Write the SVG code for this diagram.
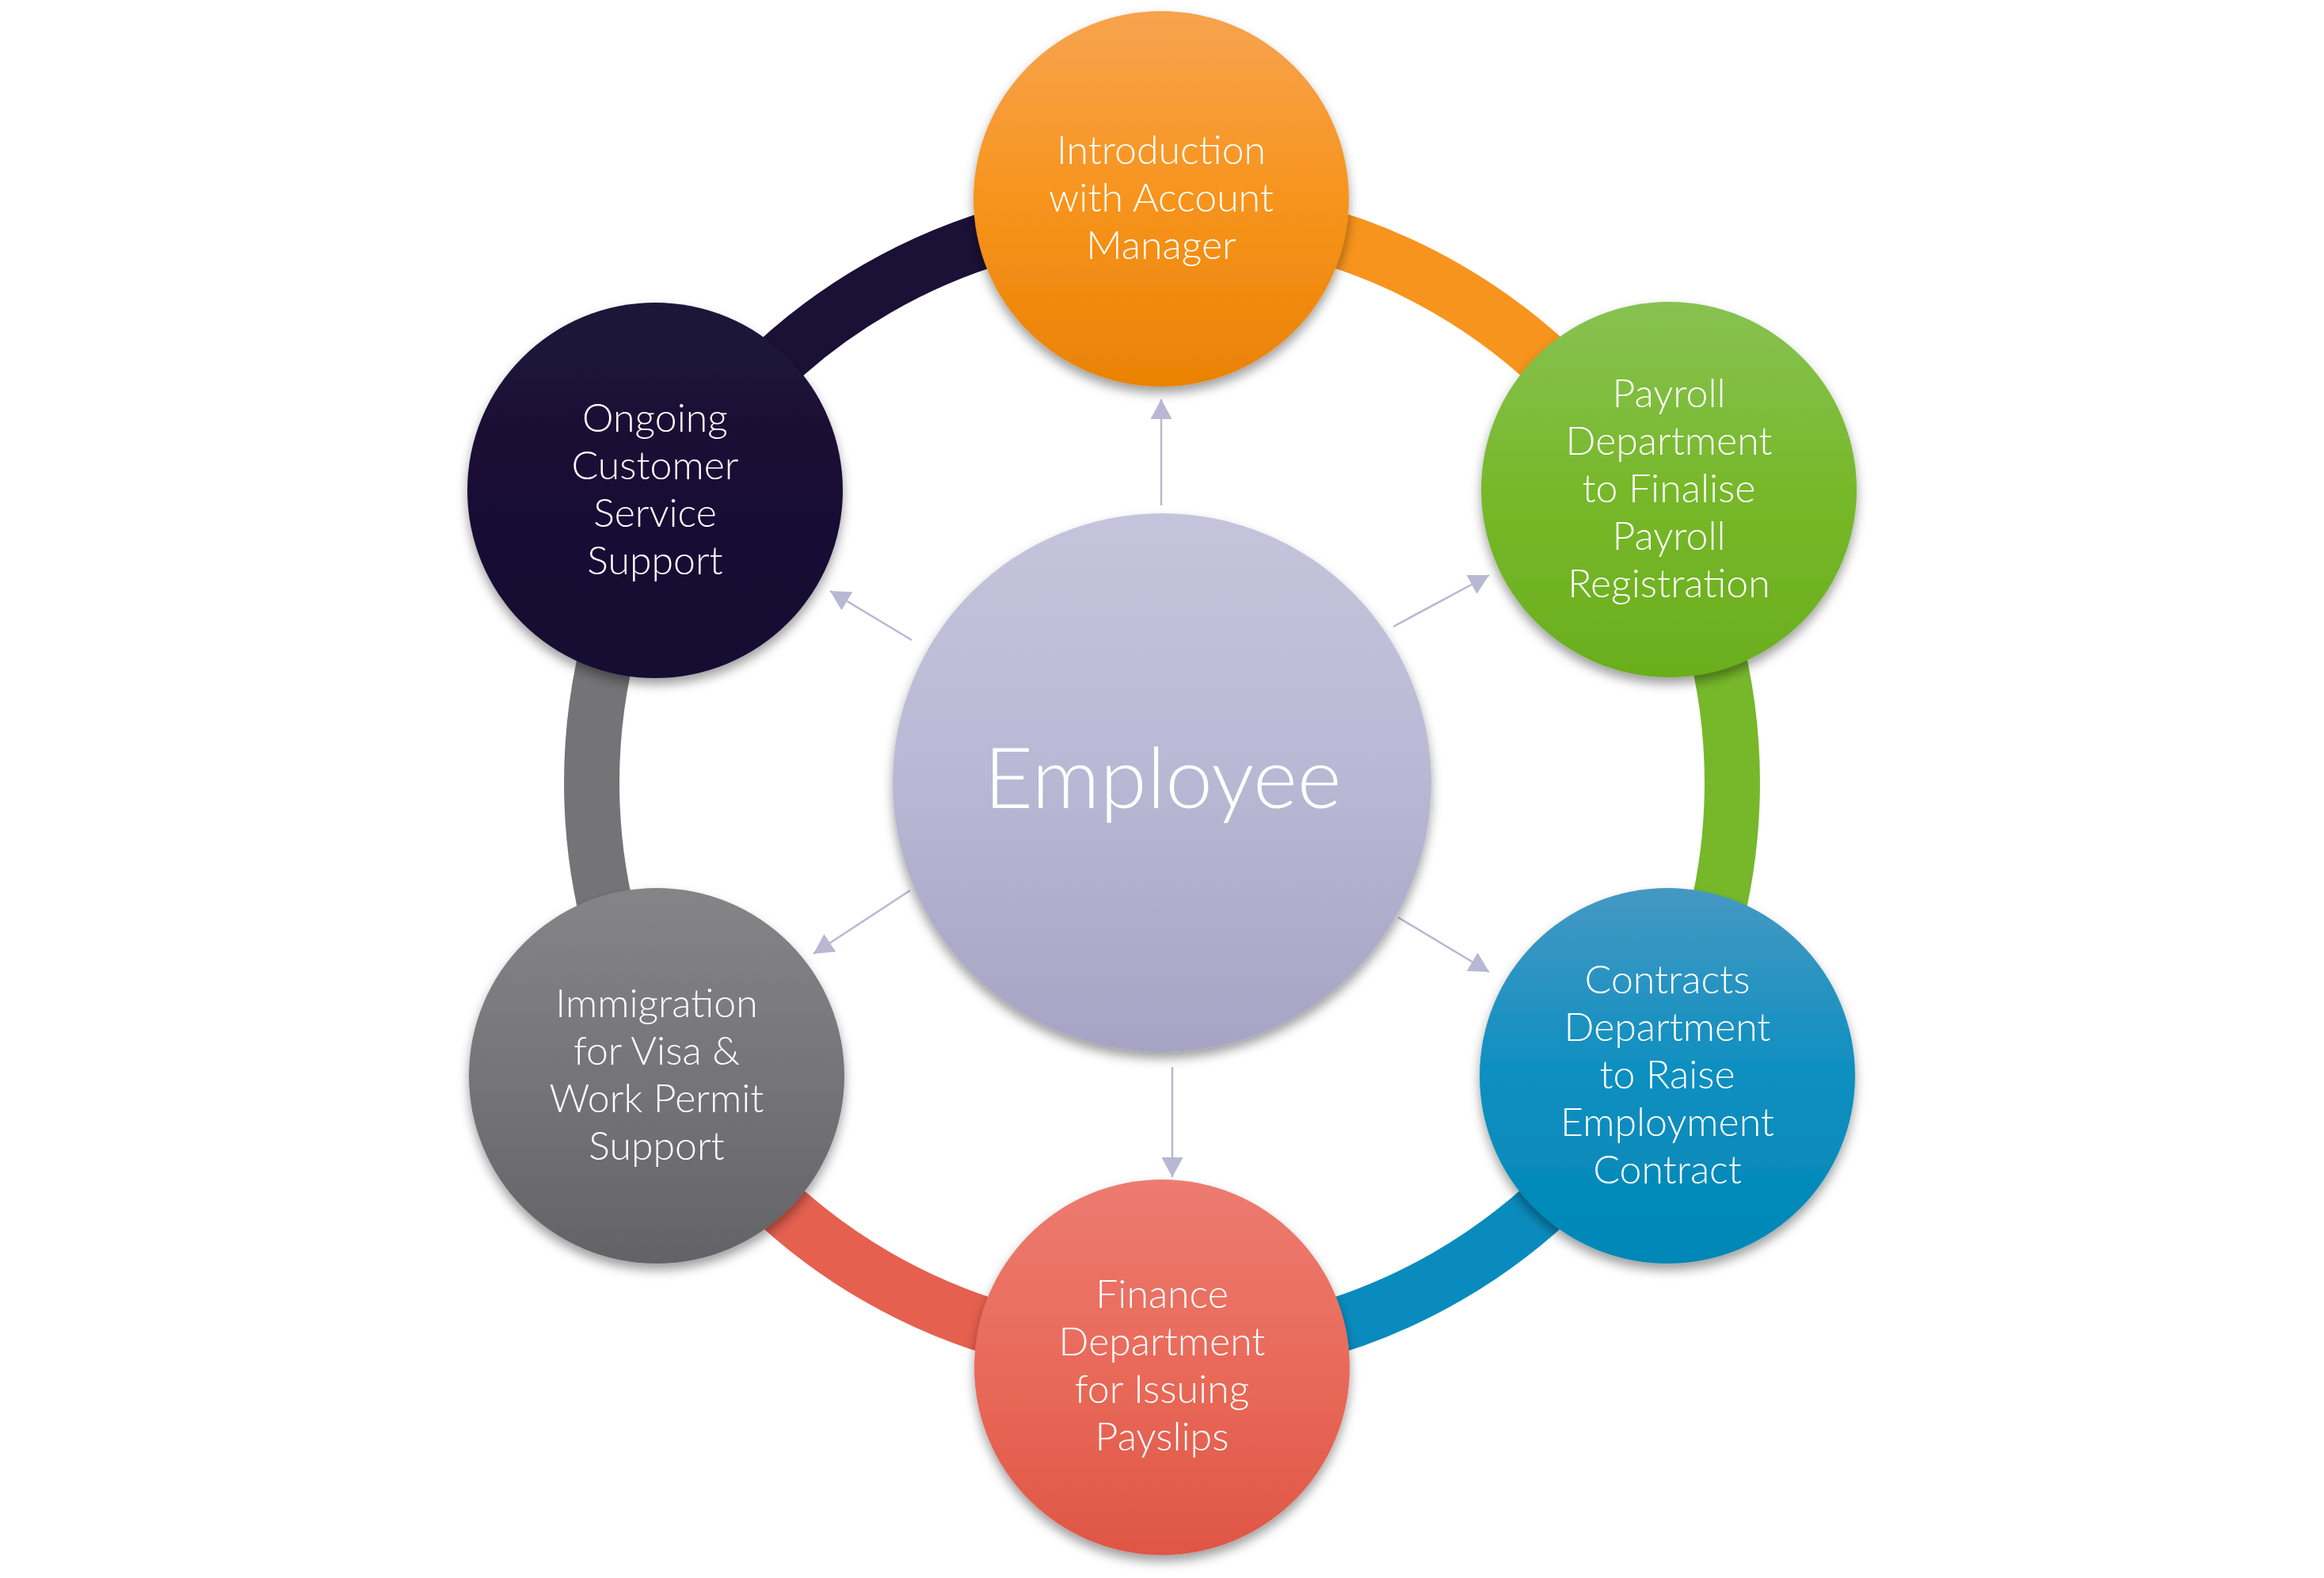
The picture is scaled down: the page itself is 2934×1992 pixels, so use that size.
<svg xmlns="http://www.w3.org/2000/svg" width="2934" height="1992" viewBox="0 0 2934 1992">
<defs>
<style>
.lbl{font-family:Lato,"Liberation Sans",sans-serif;font-weight:300;font-size:50px;fill:#ffffff;text-anchor:middle}
.big{font-family:Lato,"Liberation Sans",sans-serif;font-weight:300;font-size:107px;fill:#ffffff;text-anchor:middle}
.arc{fill:none;stroke-width:70;stroke-linecap:butt}
.conn{stroke:#b9b7d3;stroke-width:2.5;fill:none}
</style>
<filter id="sh" x="-20%" y="-20%" width="140%" height="150%">
<feDropShadow dx="0" dy="8" stdDeviation="7" flood-color="#000" flood-opacity="0.38"/>
</filter>
<linearGradient id="gO" x1="0" y1="0" x2="0" y2="1"><stop offset="0" stop-color="#f7a34f"/><stop offset="0.5" stop-color="#f7941d"/><stop offset="1" stop-color="#e98204"/></linearGradient>
<linearGradient id="gG" x1="0" y1="0" x2="0" y2="1"><stop offset="0" stop-color="#87c252"/><stop offset="0.5" stop-color="#77b82a"/><stop offset="1" stop-color="#6aae1e"/></linearGradient>
<linearGradient id="gB" x1="0" y1="0" x2="0" y2="1"><stop offset="0" stop-color="#4598c3"/><stop offset="0.5" stop-color="#0d8fc0"/><stop offset="1" stop-color="#0087b6"/></linearGradient>
<linearGradient id="gR" x1="0" y1="0" x2="0" y2="1"><stop offset="0" stop-color="#ec7b70"/><stop offset="0.5" stop-color="#e96a5a"/><stop offset="1" stop-color="#df5645"/></linearGradient>
<linearGradient id="gGr" x1="0" y1="0" x2="0" y2="1"><stop offset="0" stop-color="#858588"/><stop offset="0.5" stop-color="#757578"/><stop offset="1" stop-color="#636367"/></linearGradient>
<linearGradient id="gN" x1="0" y1="0" x2="0" y2="1"><stop offset="0" stop-color="#1d1338"/><stop offset="1" stop-color="#160d32"/></linearGradient>
<linearGradient id="gE" x1="0" y1="0" x2="0" y2="1"><stop offset="0" stop-color="#c6c4dc"/><stop offset="0.5" stop-color="#b9b7d3"/><stop offset="1" stop-color="#a6a3c4"/></linearGradient>
<marker id="ah" viewBox="0 0 25 27" refX="25" refY="13.5" markerWidth="25" markerHeight="27" markerUnits="userSpaceOnUse" orient="auto">
<path d="M0,0 L25,13.5 L0,27 z" fill="#b9b7d3"/>
</marker>
</defs>
<rect width="2934" height="1992" fill="#ffffff"/>
<g id="ring">
<path class="arc" stroke="#f7941d" d="M 1467 268 A 720 720 0 0 1 2090.5 628"/>
<path class="arc" stroke="#76b82a" d="M 2090.5 628 A 720 720 0 0 1 2090.5 1348"/>
<path class="arc" stroke="#0a8bbd" d="M 2090.5 1348 A 720 720 0 0 1 1467 1708"/>
<path class="arc" stroke="#e5604f" d="M 1467 1708 A 720 720 0 0 1 843.5 1348"/>
<path class="arc" stroke="#747477" d="M 843.5 1348 A 720 720 0 0 1 843.5 628"/>
<path class="arc" stroke="#1b1036" d="M 843.5 628 A 720 720 0 0 1 1467 268"/>
</g>
<g id="connectors">
<line class="conn" x1="1466" y1="638" x2="1466" y2="504" marker-end="url(#ah)"/>
<line class="conn" x1="1759" y1="791" x2="1880" y2="726" marker-end="url(#ah)"/>
<line class="conn" x1="1765" y1="1158" x2="1880" y2="1227" marker-end="url(#ah)"/>
<line class="conn" x1="1480" y1="1347" x2="1480" y2="1486" marker-end="url(#ah)"/>
<line class="conn" x1="1149" y1="1124" x2="1027" y2="1204" marker-end="url(#ah)"/>
<line class="conn" x1="1151" y1="808" x2="1048" y2="746" marker-end="url(#ah)"/>
</g>
<g id="employee">
<circle cx="1467" cy="988" r="340" fill="url(#gE)" filter="url(#sh)"/>
<text class="big" x="1468" y="1020">Employee</text>
</g>
<g id="introduction">
<circle cx="1466" cy="251" r="237" fill="url(#gO)" filter="url(#sh)"/>
<text class="lbl" x="1466" y="207">Introduction</text>
<text class="lbl" x="1466" y="267">with Account</text>
<text class="lbl" x="1466" y="327">Manager</text>
</g>
<g id="payroll">
<circle cx="2107" cy="618" r="237" fill="url(#gG)" filter="url(#sh)"/>
<text class="lbl" x="2107" y="514">Payroll</text>
<text class="lbl" x="2107" y="574">Department</text>
<text class="lbl" x="2107" y="634">to Finalise</text>
<text class="lbl" x="2107" y="694">Payroll</text>
<text class="lbl" x="2107" y="754">Registration</text>
</g>
<g id="contracts">
<circle cx="2105" cy="1358" r="237" fill="url(#gB)" filter="url(#sh)"/>
<text class="lbl" x="2105" y="1254">Contracts</text>
<text class="lbl" x="2105" y="1314">Department</text>
<text class="lbl" x="2105" y="1374">to Raise</text>
<text class="lbl" x="2105" y="1434">Employment</text>
<text class="lbl" x="2105" y="1494">Contract</text>
</g>
<g id="finance">
<circle cx="1467" cy="1726" r="237" fill="url(#gR)" filter="url(#sh)"/>
<text class="lbl" x="1467" y="1651">Finance</text>
<text class="lbl" x="1467" y="1711">Department</text>
<text class="lbl" x="1467" y="1771">for Issuing</text>
<text class="lbl" x="1467" y="1831">Payslips</text>
</g>
<g id="immigration">
<circle cx="829" cy="1358" r="237" fill="url(#gGr)" filter="url(#sh)"/>
<text class="lbl" x="829" y="1284">Immigration</text>
<text class="lbl" x="829" y="1344">for Visa &amp;</text>
<text class="lbl" x="829" y="1404">Work Permit</text>
<text class="lbl" x="829" y="1464">Support</text>
</g>
<g id="ongoing">
<circle cx="827" cy="619" r="237" fill="url(#gN)" filter="url(#sh)"/>
<text class="lbl" x="827" y="545">Ongoing</text>
<text class="lbl" x="827" y="605">Customer</text>
<text class="lbl" x="827" y="665">Service</text>
<text class="lbl" x="827" y="725">Support</text>
</g>
</svg>
